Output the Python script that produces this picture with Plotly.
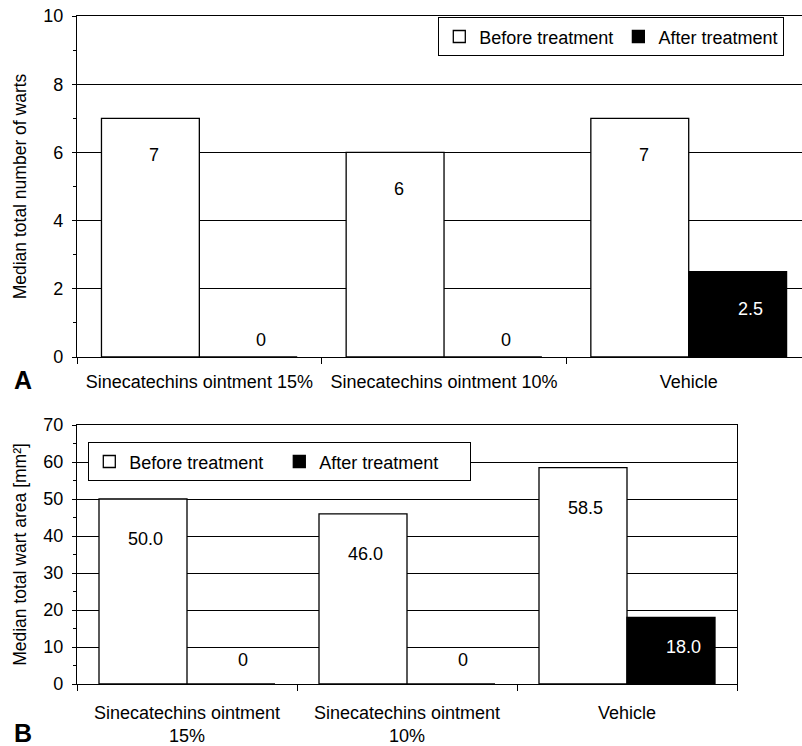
import plotly.graph_objects as go

# ---- data ----
categories_a = ["Sinecatechins ointment 15%", "Sinecatechins ointment 10%", "Vehicle"]
categories_b = ["Sinecatechins ointment<br>15%", "Sinecatechins ointment<br>10%", "Vehicle"]
warts_before = [7, 6, 7]
warts_after = [0, 0, 2.5]
area_before = [50.0, 46.0, 58.5]
area_after = [0, 0, 18.0]
warts_before_txt = ["7", "6", "7"]
warts_after_txt = ["0", "0", "2.5"]
area_before_txt = ["50.0", "46.0", "58.5"]
area_after_txt = ["0", "0", "18.0"]
series_names = ["Before treatment", "After treatment"]

FONT = "Liberation Sans, Arial, sans-serif"
W, H = 802, 746
FS = 18

fig = go.Figure()
line = dict(color="black", width=1.3)
fig.add_bar(x=categories_a, y=warts_before, name=series_names[0], marker=dict(color="white", line=line),
            xaxis="x", yaxis="y", legend="legend")
fig.add_bar(x=categories_a, y=warts_after, name=series_names[1], marker=dict(color="black", line=line),
            xaxis="x", yaxis="y", legend="legend")
fig.add_bar(x=categories_b, y=area_before, name=series_names[0], marker=dict(color="white", line=line),
            xaxis="x2", yaxis="y2", legend="legend2")
fig.add_bar(x=categories_b, y=area_after, name=series_names[1], marker=dict(color="black", line=line),
            xaxis="x2", yaxis="y2", legend="legend2")

annotations = []
def add_labels(cats, vals, txts, xref, yref, xshift, color, top_shift, zero_shift):
    for c, v, t in zip(cats, vals, txts):
        annotations.append(dict(
            x=c, y=v, xref=xref, yref=yref, text=t, showarrow=False,
            xshift=xshift, yshift=(zero_shift if v == 0 else top_shift),
            font=dict(family=FONT, size=FS, color=(color if v != 0 else "black")),
        ))

add_labels(categories_a, warts_before, warts_before_txt, "x", "y", -45, "black", -37, 17)
add_labels(categories_a, warts_after, warts_after_txt, "x", "y", 62, "white", -37, 17)
add_labels(categories_b, area_before, area_before_txt, "x2", "y2", -42, "black", -40, 24)
add_labels(categories_b, area_after, area_after_txt, "x2", "y2", 56, "white", -30, 24)

annotations.append(dict(x=12 / W, y=1 - 380 / H, xref="paper", yref="paper", text="<b>A</b>",
                        showarrow=False, xanchor="left", yanchor="middle",
                        font=dict(family=FONT, size=25, color="black")))
annotations.append(dict(x=12 / W, y=1 - 733 / H, xref="paper", yref="paper", text="<b>B</b>",
                        showarrow=False, xanchor="left", yanchor="middle",
                        font=dict(family=FONT, size=25, color="black")))

tickfont = dict(family=FONT, size=FS, color="black")
yaxis_common = dict(
    showgrid=True, gridcolor="black", gridwidth=1.3, zeroline=False,
    showline=True, linecolor="black", linewidth=1.3,
    ticks="outside", ticklen=4, tickcolor="black", tickwidth=1.3,
    tickfont=tickfont, ticklabelstandoff=5, automargin=False,
)
xaxis_common = dict(
    type="category", showgrid=False, zeroline=False,
    showline=True, linecolor="black", linewidth=1.3, mirror=True,
    ticks="outside", tickson="boundaries", ticklen=6, tickcolor="black", tickwidth=1.3,
    tickfont=tickfont, automargin=False,
)

fig.update_layout(
    width=W, height=H, margin=dict(l=0, r=0, t=0, b=0, autoexpand=False),
    paper_bgcolor="white", plot_bgcolor="white",
    font=dict(family=FONT, size=FS, color="black"),
    barmode="group", bargap=0.2, bargroupgap=0,
    showlegend=True,
    xaxis=dict(domain=[77 / W, 1.0], anchor="y", range=[-0.5, 2.463], ticklabelstandoff=8, **xaxis_common),
    yaxis=dict(domain=[1 - 357 / H, 1 - 16 / H], anchor="x", range=[0, 10], dtick=2,
               minor=dict(dtick=1, ticks="outside", ticklen=3, tickcolor="black", tickwidth=1.3, showgrid=False),
               title=dict(text="Median total number of warts", font=dict(family=FONT, size=17.5), standoff=12),
               **yaxis_common),
    xaxis2=dict(domain=[77 / W, 737 / W], anchor="y2", range=[-0.5, 2.5], ticklabelstandoff=12, **xaxis_common),
    yaxis2=dict(domain=[1 - 684 / H, 1 - 425 / H], anchor="x2", range=[0, 70], dtick=10, mirror=True,
                minor=dict(dtick=5, ticks="outside", ticklen=3, tickcolor="black", tickwidth=1.3, showgrid=False),
                title=dict(text="Median total wart area [mm²]", font=dict(family=FONT, size=17.5), standoff=12),
                **yaxis_common),
    legend=dict(x=438 / W, y=1 - 17 / H, xanchor="left", yanchor="top", orientation="h",
                bgcolor="white", bordercolor="black", borderwidth=1.3,
                font=dict(family=FONT, size=FS, color="black"), itemwidth=30),
    legend2=dict(x=88 / W, y=1 - 442 / H, xanchor="left", yanchor="top", orientation="h",
                 bgcolor="white", bordercolor="black", borderwidth=1.3, entrywidth=145,
                 font=dict(family=FONT, size=FS, color="black"), itemwidth=30),
    annotations=annotations,
)

fig.write_html("out.html", config={"displayModeBar": False},
               post_script="document.body.style.margin='0px';")
